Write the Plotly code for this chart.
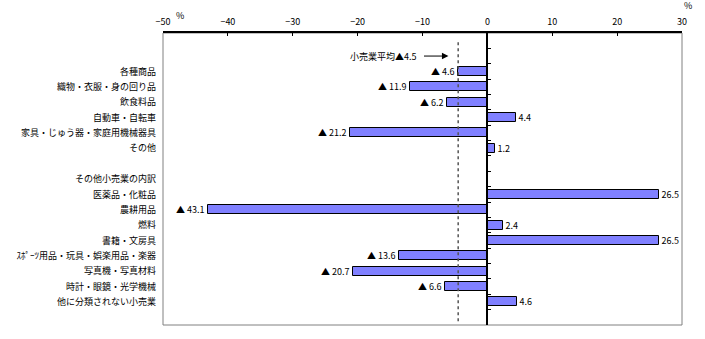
import plotly.graph_objects as go

rows = ["", "", "各種商品", "織物・衣服・身の回り品", "飲食料品", "自動車・自転車",
        "家具・じゅう器・家庭用機械器具", "その他", "", "その他小売業の内訳",
        "医薬品・化粧品", "農耕用品", "燃料", "書籍・文房具",
        "ｽﾎﾟｰﾂ用品・玩具・娯楽用品・楽器", "写真機・写真材料",
        "時計・眼鏡・光学機械", "他に分類されない小売業", ""]
values = [None, None, -4.6, -11.9, -6.2, 4.4, -21.2, 1.2, None, None,
          26.5, -43.1, 2.4, 26.5, -13.6, -20.7, -6.6, 4.6, None]
avg_value = -4.5
avg_label = "小売業平均▲4.5"
x_ticks = [-50, -40, -30, -20, -10, 0, 10, 20, 30]

FONT = "Noto Sans CJK JP, Liberation Sans, sans-serif"

pos = list(range(len(rows)))
bar_y = [p for p, v in zip(pos, values) if v is not None]
bar_x = [v for v in values if v is not None]
bar_text = [("▲ %.1f" % abs(v)) if v < 0 else ("%.1f" % v) for v in bar_x]

fig = go.Figure()
fig.add_trace(go.Bar(
    x=bar_x, y=bar_y, orientation="h", width=0.58,
    marker=dict(color="#8080FF", line=dict(color="black", width=1)),
    text=bar_text, textposition="outside", constraintext="none",
    textfont=dict(family=FONT, size=9, color="black"),
    cliponaxis=False, hoverinfo="skip", showlegend=False,
))
# invisible trace to activate the zero-line axis
fig.add_trace(go.Scatter(x=[None], y=[None], yaxis="y2", showlegend=False))

label_pos = [p for p, r in zip(pos, rows) if r]
label_txt = [r for r in rows if r]
boundaries = [p + 0.5 for p in pos[:-1]]
yrange = [len(rows) - 0.5, -0.5]

fig.update_layout(
    width=705, height=339,
    margin=dict(l=163, r=23, t=33, b=14),
    paper_bgcolor="white", plot_bgcolor="white",
    font=dict(family=FONT, size=9, color="black"),
    bargap=0,
    xaxis=dict(
        side="top", range=[-50, 30], tickvals=x_ticks,
        ticks="inside", ticklen=3, tickcolor="black", tickwidth=1,
        showline=True, linecolor="black", linewidth=1.5,
        showgrid=False, zeroline=False,
        tickfont=dict(family=FONT, size=9, color="black"),
        ticklabelstandoff=3,
    ),
    yaxis=dict(
        range=yrange, tickvals=label_pos, ticktext=label_txt,
        showgrid=False, zeroline=False, showline=False, ticks="",
        tickfont=dict(family=FONT, size=9, color="black"),
        ticklabelstandoff=6,
    ),
    yaxis2=dict(
        overlaying="y", anchor="free", position=50 / 80, side="right",
        range=yrange, tickvals=boundaries, showticklabels=False,
        ticks="outside", ticklen=3, tickcolor="black",
        showline=True, linecolor="black", linewidth=1.5,
        showgrid=False, zeroline=False,
    ),
    shapes=[
        dict(type="rect", xref="paper", yref="paper", x0=0, x1=1, y0=0, y1=1,
             line=dict(color="#808080", width=1), layer="below"),
        dict(type="line", xref="x", yref="y", x0=avg_value, x1=avg_value,
             y0=0.1, y1=18.3, line=dict(color="#555555", width=1.5, dash="dot")),
    ],
    annotations=[
        dict(x=-6.0, y=1, xref="x", yref="y", ax=-10, ay=1, axref="x", ayref="y",
             text="", showarrow=True, arrowhead=2, arrowsize=1.3, arrowwidth=1,
             arrowcolor="black"),
        dict(x=-10.6, y=1, xref="x", yref="y", text=avg_label, showarrow=False,
             xanchor="right", font=dict(family=FONT, size=9, color="black")),
        dict(x=-47.4, y=1, xref="x", yref="paper", yanchor="bottom", yshift=9,
             text="%", showarrow=False, font=dict(family=FONT, size=9, color="black")),
        dict(x=30, y=1, xref="x", yref="paper", yanchor="bottom", yshift=19,
             xshift=6, text="%", showarrow=False,
             font=dict(family=FONT, size=9, color="black")),
    ],
)

fig.write_html("out.html")
